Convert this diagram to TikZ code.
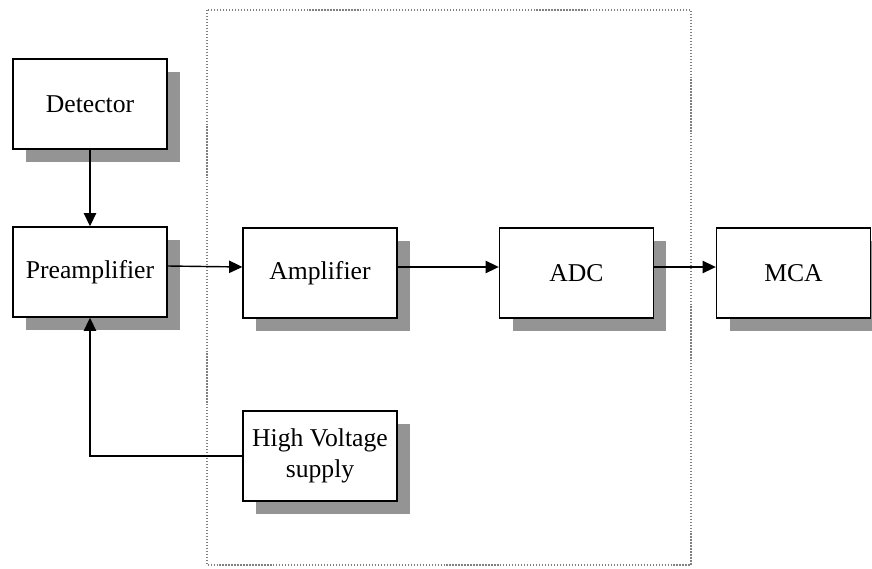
\documentclass[tikz,border=0pt]{standalone}
\usepackage{fontspec}
\setmainfont{Liberation Serif}
\usetikzlibrary{shadows, positioning, arrows.meta}

\begin{document}
\begin{tikzpicture}[
    x=0.02cm, y=-0.02cm,
    font=\fontsize{14.6}{17.5}\selectfont,
    block/.style={draw, rectangle, line width=0.8pt, minimum width=3.08cm, minimum height=1.8cm, align=center, fill=white,
        drop shadow={shadow xshift=0.26cm, shadow yshift=-0.26cm, fill=black!42, opacity=1}},
    link/.style={line width=0.8pt, -{Triangle[length=7.5pt, width=7pt]}}
]
    \useasboundingbox[fill=white] (0,0) rectangle (872,568);

    % Enclosing frame
    \draw[densely dotted, gray, line width=0.7pt] (207,10) rectangle (691,565);

    % Blocks
    \node[block] (det) at (90,104) {Detector};
    \node[block] (pre) at (90,272) {Preamplifier};
    \node[block] (amp) at (320,273) {Amplifier};
    \node[block] (adc) at (576.5,273) {ADC};
    \node[block] (mca) at (793.5,273) {MCA};
    \node[block] (hv) at (320,456) {High Voltage\\supply};

    % Signal chain
    \draw[link] (det) -- (pre);
    \draw[link] ([yshift=0.12cm]pre.east) -- ([yshift=0.12cm]amp.west);
    \draw[link] ([yshift=0.12cm]amp.east) -- ([yshift=0.12cm]adc.west);
    \draw[link] ([yshift=0.12cm]adc.east) -- ([yshift=0.12cm]mca.west);

    % Bias supply
    \draw[link] (hv.west) -| (pre.south);

\end{tikzpicture}
\end{document}
